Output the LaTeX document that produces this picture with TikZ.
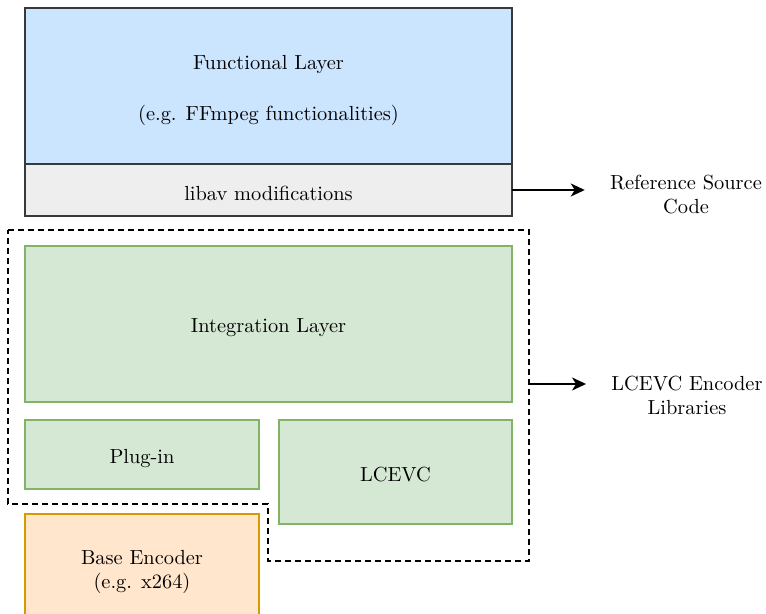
\documentclass[tikz,border=0pt]{standalone}
\usetikzlibrary{arrows.meta}
\definecolor{blueFill}{HTML}{CCE5FF}
\definecolor{greyFill}{HTML}{EEEEEE}
\definecolor{darkEdge}{HTML}{36393D}
\definecolor{greenFill}{HTML}{D5E8D4}
\definecolor{greenEdge}{HTML}{82B366}
\definecolor{orangeFill}{HTML}{FFE6CC}
\definecolor{orangeEdge}{HTML}{D79B00}
\tikzset{
  txt/.style={align=center, inner sep=0pt, font=\fontsize{10.2}{12}\selectfont},
  block/.style={rectangle, outer sep=0pt, inner sep=0pt},
  darkblock/.style={block, draw=darkEdge, line width=0.8pt},
  greenblock/.style={block, draw=greenEdge, fill=greenFill, line width=0.7pt},
  orangeblock/.style={block, draw=orangeEdge, fill=orangeFill, line width=0.8pt},
  % text placed at a box centre, nudged down a little
  inside/.style 2 args={label={[txt, yshift=#1]center:#2}},
  sidelabel/.style={txt, inner xsep=12.5pt},
  flow/.style={-{Stealth[length=7pt,width=6.5pt,inset=2pt]}, line width=0.9pt},
  boundary/.style={dash pattern=on 3pt off 2pt, line width=0.65pt}
}
\begin{document}
\begin{tikzpicture}[x=0.5pt,y=-0.5pt]
  \useasboundingbox (0,0) rectangle (766,614);

  % software stack
  \node[darkblock, fill=blueFill, minimum width=243.5pt, minimum height=78pt,
    inside={-2.3pt}{Functional Layer\\[13.5pt](e.g. FFmpeg functionalities)}]
    (func) at (268.5,86) {};
  \node[darkblock, fill=greyFill, minimum width=243.5pt, minimum height=26pt,
    inside={-1.5pt}{libav modifications}]
    (libav) at (268.5,190) {};

  \node[greenblock, minimum width=243.5pt, minimum height=78pt,
    inside={-2pt}{Integration Layer}]
    (integ) at (268.5,324) {};
  \node[greenblock, minimum width=117pt, minimum height=34.5pt,
    inside={-2pt}{Plug-in}]
    (plugin) at (142,454.5) {};
  \node[greenblock, minimum width=116.5pt, minimum height=52pt,
    inside={-1.5pt}{LCEVC}]
    (lcevc) at (395.5,472) {};
  \node[orangeblock, minimum width=117pt, minimum height=56pt,
    inside={-0.8pt}{Base Encoder\\(e.g. x264)}]
    (base) at (142,570) {};

  % boundary of the encoder libraries
  \draw[boundary] (8,230) -- (529,230) -- (529,561) -- (268,561)
    -- (268,504) -- (8,504) -- cycle;
  \coordinate (libsedge) at (529,384);

  % side labels
  \node[sidelabel] (refsrc) at (686,195) {Reference Source\\Code};
  \node[sidelabel] (libs) at (687,395) {LCEVC Encoder\\Libraries};

  \draw[flow] (libav.east) -- (libav.east -| refsrc.west);
  \draw[flow] (libsedge) -- (libsedge -| libs.west);
\end{tikzpicture}
\end{document}
